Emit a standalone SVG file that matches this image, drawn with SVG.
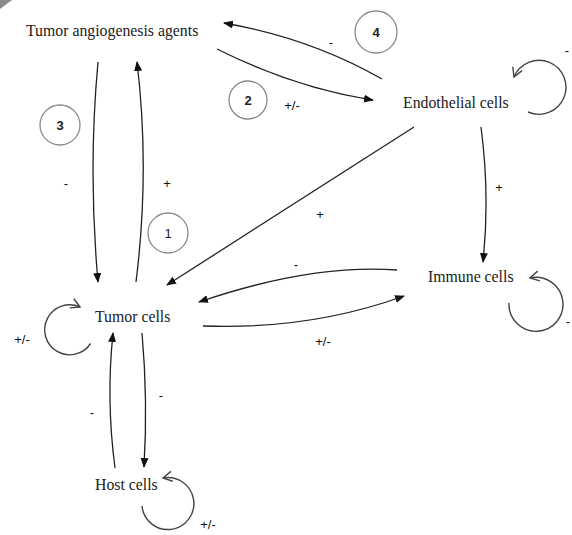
<svg xmlns="http://www.w3.org/2000/svg" width="572" height="535" viewBox="0 0 572 535">
<style>
.node{font-family:"Liberation Serif","Times New Roman",serif;font-size:15.8px;fill:#1a1a1a}
.lbl{font-family:"Liberation Sans",Arial,sans-serif;font-size:13px;fill:#111;text-anchor:middle}
.num{font-family:"Liberation Sans",Arial,sans-serif;font-size:13px;fill:#222;text-anchor:middle;font-weight:bold}
.ring{fill:none;stroke:#8a8a8a;stroke-width:1.3}
.c{fill:none;stroke:#222;stroke-width:1.3}
.loop{fill:none;stroke:#444;stroke-width:1.4}
</style>
<defs>
<marker id="ah" viewBox="0 0 10 8" refX="9" refY="4" markerWidth="10" markerHeight="8" markerUnits="userSpaceOnUse" orient="auto">
<path d="M0,0 L10,4 L0,8 Z" fill="#111"/>
</marker>
<marker id="oh" viewBox="0 0 12 12" refX="10" refY="6" markerWidth="12" markerHeight="12" markerUnits="userSpaceOnUse" orient="auto">
<path d="M1,1 L10,6 L1,11" fill="none" stroke="#444" stroke-width="1.4"/>
</marker>
</defs>
<rect width="572" height="535" fill="#fff"/>
<polygon points="0,0 12,0 0,9" fill="#8a8a8a"/>

<g id="connectors">
<path class="c" d="M382,79 Q310,38 224,23" marker-end="url(#ah)"/>
<path class="c" d="M217,49 Q295,88 373,100" marker-end="url(#ah)"/>
<path class="c" d="M98,62 Q88,170 98,282" marker-end="url(#ah)"/>
<path class="c" d="M136,282 Q150,170 137,62" marker-end="url(#ah)"/>
<path class="c" d="M414,127 Q300,200 167,285" marker-end="url(#ah)"/>
<path class="c" d="M481,127 Q490,195 483,262" marker-end="url(#ah)"/>
<path class="c" d="M397,270 Q310,264 199,302" marker-end="url(#ah)"/>
<path class="c" d="M203,326 Q310,330 404,296" marker-end="url(#ah)"/>
<path class="c" d="M142,333 Q148,400 144,467" marker-end="url(#ah)"/>
<path class="c" d="M115,468 Q106,400 113,333" marker-end="url(#ah)"/>
<path class="loop" d="M90.6,343.5 A25,25 0 1 1 80,307" marker-end="url(#oh)"/>
<path class="loop" d="M528,112 A27,27 0 1 0 514,77" marker-end="url(#oh)"/>
<path class="loop" d="M509,303 A27,27 0 1 0 530,278" marker-end="url(#oh)"/>
<path class="loop" d="M142,506 A26,26 0 1 0 163,478" marker-end="url(#oh)"/>
</g>

<g id="tumor-angiogenesis-agents"><text class="node" x="26" y="36">Tumor angiogenesis agents</text></g>
<g id="endothelial-cells"><text class="node" x="403" y="108">Endothelial cells</text></g>
<g id="immune-cells"><text class="node" x="428" y="282">Immune cells</text></g>
<g id="tumor-cells"><text class="node" x="95" y="322">Tumor cells</text></g>
<g id="host-cells"><text class="node" x="95" y="490">Host cells</text></g>

<g id="markers">
<circle class="ring" cx="376" cy="32" r="21"/><text class="num" x="376" y="37">4</text>
<circle class="ring" cx="248" cy="100" r="19"/><text class="num" x="248" y="105">2</text>
<circle class="ring" cx="60" cy="125" r="20"/><text class="num" x="60" y="130">3</text>
<circle class="ring" cx="168" cy="233" r="20"/><text class="num" x="168" y="238" style="font-weight:normal">1</text>
</g>

<g id="labels">
<text class="lbl" x="331" y="47">-</text>
<text class="lbl" x="292" y="110">+/-</text>
<text class="lbl" x="567" y="55">-</text>
<text class="lbl" x="66" y="188">-</text>
<text class="lbl" x="167" y="188">+</text>
<text class="lbl" x="320" y="219">+</text>
<text class="lbl" x="499" y="192">+</text>
<text class="lbl" x="296" y="269">-</text>
<text class="lbl" x="323" y="346">+/-</text>
<text class="lbl" x="22" y="344">+/-</text>
<text class="lbl" x="568" y="326">-</text>
<text class="lbl" x="92" y="417">-</text>
<text class="lbl" x="161" y="400">-</text>
<text class="lbl" x="208" y="529">+/-</text>
</g>
</svg>
